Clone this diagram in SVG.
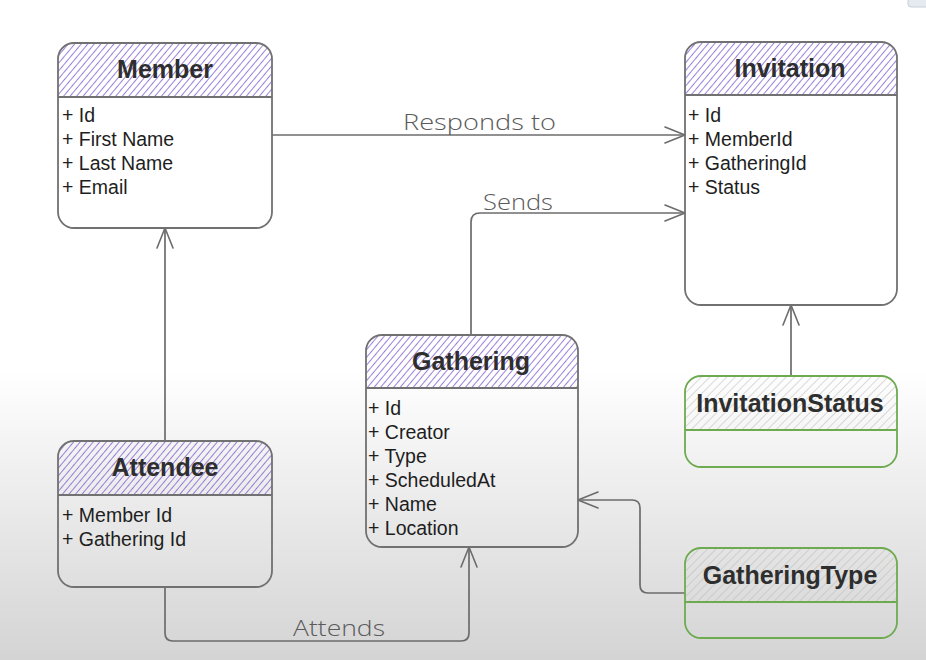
<svg xmlns="http://www.w3.org/2000/svg" width="926" height="660" viewBox="0 0 926 660">
<defs>
<linearGradient id="bg" x1="0" y1="0" x2="0" y2="1">
<stop offset="0" stop-color="#ffffff"/>
<stop offset="0.56" stop-color="#ffffff"/>
<stop offset="0.75" stop-color="#ececec"/>
<stop offset="1" stop-color="#d4d4d4"/>
</linearGradient>
<pattern id="hp" width="5" height="5" patternUnits="userSpaceOnUse" patternTransform="rotate(40)">
<line x1="0" y1="0" x2="0" y2="5" stroke="#8460d0" stroke-width="1.6"/>
</pattern>
<pattern id="hg" width="6" height="6" patternUnits="userSpaceOnUse" patternTransform="rotate(45)">
<line x1="0" y1="0" x2="0" y2="6" stroke="#b9bdb7" stroke-width="1.1"/>
</pattern>
<marker id="arr" viewBox="0 0 22 18" refX="21" refY="9" markerWidth="22" markerHeight="18" markerUnits="userSpaceOnUse" orient="auto">
<path d="M1,1 L21,9 L1,17" fill="none" stroke="#6c6c6c" stroke-width="1.6" stroke-linecap="round" stroke-linejoin="round"/>
</marker>
<style>
.box{fill:none;stroke:#717171;stroke-width:1.8}
.gbox{fill:none;stroke:#6eaa50;stroke-width:1.8}
.title{font-family:"Liberation Sans",Arial,sans-serif;font-weight:bold;font-size:25px;fill:#2e2e2e;text-anchor:middle}
.attr{font-family:"Liberation Sans",Arial,sans-serif;font-size:19.5px;fill:#1e1e1e}
.lbl{font-family:"Open Sans","DejaVu Sans",sans-serif;font-weight:300;font-size:22px;fill:#5a5a5a}
.con{fill:none;stroke:#6c6c6c;stroke-width:1.7;stroke-linejoin:round}
</style>
</defs>
<rect x="0" y="0" width="926" height="660" fill="url(#bg)"/>
<rect x="908" y="-6" width="22" height="13" rx="3" fill="#e4eaf0" stroke="#c6d0da"/>

<g id="connectors">
<path class="con" d="M272,135 H685" marker-end="url(#arr)"/>
<path class="con" d="M471,335 V222 Q471,213 480,213 H685" marker-end="url(#arr)"/>
<path class="con" d="M165,441 V228" marker-end="url(#arr)"/>
<path class="con" d="M165,587 V633 Q165,641 173,641 H461 Q469,641 469,633 V547" marker-end="url(#arr)"/>
<path class="con" d="M791,376 V305" marker-end="url(#arr)"/>
<path class="con" d="M685,593 H648 Q640,593 640,585 V508 Q640,500 632,500 H578" marker-end="url(#arr)"/>
<text class="lbl" x="403" y="130" textLength="153" lengthAdjust="spacingAndGlyphs">Responds to</text>
<text class="lbl" x="483" y="210" textLength="70" lengthAdjust="spacingAndGlyphs">Sends</text>
<text class="lbl" x="293" y="636" textLength="92" lengthAdjust="spacingAndGlyphs">Attends</text>
</g>

<g id="member">
<path d="M58,97 V59 Q58,43 74,43 H256 Q272,43 272,59 V97 Z" fill="url(#hp)"/>
<rect class="box" x="58" y="43" width="214" height="185" rx="16"/>
<line class="box" x1="58" y1="97" x2="272" y2="97"/>
<text class="title" x="165" y="78">Member</text>
<text class="attr" x="62" y="122">+ Id</text>
<text class="attr" x="62" y="146">+ First Name</text>
<text class="attr" x="62" y="170">+ Last Name</text>
<text class="attr" x="62" y="194">+ Email</text>
</g>

<g id="invitation">
<path d="M685,95 V58 Q685,42 701,42 H881 Q897,42 897,58 V95 Z" fill="url(#hp)"/>
<rect class="box" x="685" y="42" width="212" height="263" rx="16"/>
<line class="box" x1="685" y1="95" x2="897" y2="95"/>
<text class="title" x="790" y="77">Invitation</text>
<text class="attr" x="688" y="122">+ Id</text>
<text class="attr" x="688" y="146">+ MemberId</text>
<text class="attr" x="688" y="170">+ GatheringId</text>
<text class="attr" x="688" y="194">+ Status</text>
</g>

<g id="gathering">
<path d="M366,388 V351 Q366,335 382,335 H562 Q578,335 578,351 V388 Z" fill="url(#hp)"/>
<rect class="box" x="366" y="335" width="212" height="212" rx="16"/>
<line class="box" x1="366" y1="388" x2="578" y2="388"/>
<text class="title" x="471" y="370">Gathering</text>
<text class="attr" x="368" y="415">+ Id</text>
<text class="attr" x="368" y="439">+ Creator</text>
<text class="attr" x="368" y="463">+ Type</text>
<text class="attr" x="368" y="487">+ ScheduledAt</text>
<text class="attr" x="368" y="511">+ Name</text>
<text class="attr" x="368" y="535">+ Location</text>
</g>

<g id="attendee">
<path d="M58,495 V457 Q58,441 74,441 H256 Q272,441 272,457 V495 Z" fill="url(#hp)"/>
<rect class="box" x="58" y="441" width="214" height="146" rx="16"/>
<line class="box" x1="58" y1="495" x2="272" y2="495"/>
<text class="title" x="165" y="476">Attendee</text>
<text class="attr" x="62" y="522">+ Member Id</text>
<text class="attr" x="62" y="546">+ Gathering Id</text>
</g>

<g id="invitation-status">
<path d="M685,430 V392 Q685,376 701,376 H881 Q897,376 897,392 V430 Z" fill="url(#hg)"/>
<rect class="gbox" x="685" y="376" width="212" height="91" rx="16"/>
<line class="gbox" x1="685" y1="430" x2="897" y2="430"/>
<text class="title" x="790" y="412">InvitationStatus</text>
</g>

<g id="gathering-type">
<path d="M685,602 V564 Q685,548 701,548 H881 Q897,548 897,564 V602 Z" fill="url(#hg)"/>
<rect class="gbox" x="685" y="548" width="212" height="90" rx="16"/>
<line class="gbox" x1="685" y1="602" x2="897" y2="602"/>
<text class="title" x="790" y="584">GatheringType</text>
</g>
</svg>
